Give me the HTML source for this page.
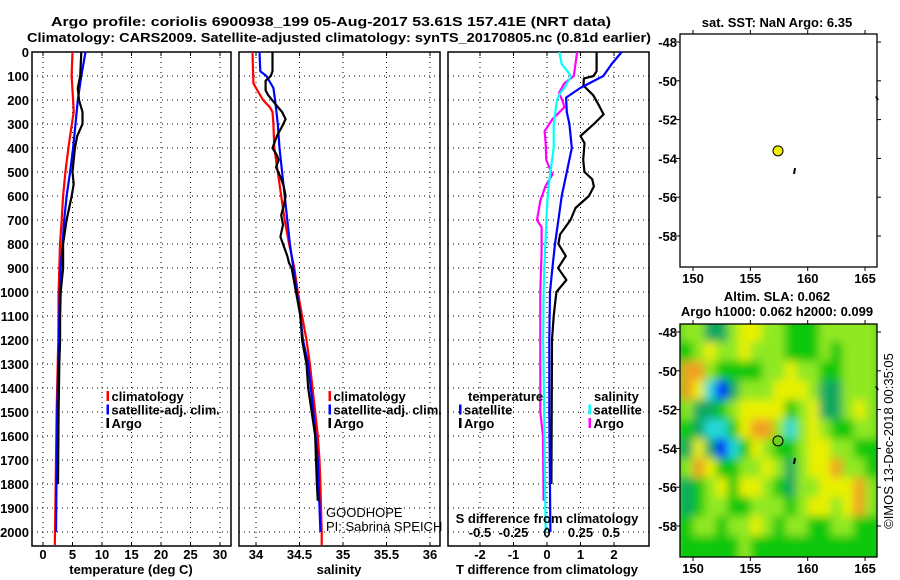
<!DOCTYPE html>
<html><head><meta charset="utf-8"><style>
html,body{margin:0;padding:0;background:#fff;}
svg{display:block;font-family:"Liberation Sans",Arial,sans-serif;}
.b{font-weight:bold;font-size:13px;fill:#000;}
.n{font-size:13px;fill:#000;}
</style></head><body>
<svg id="fig" width="900" height="580" viewBox="0 0 900 580" xmlns="http://www.w3.org/2000/svg">
<defs>
<filter id="blur" x="0" y="0" width="1" height="1"><feGaussianBlur stdDeviation="4.5" edgeMode="duplicate"/></filter>
<clipPath id="clipMap"><rect x="680" y="324" width="197" height="233"/></clipPath>
</defs>
<text class="b" x="331" y="26" text-anchor="middle" textLength="560" lengthAdjust="spacingAndGlyphs">Argo profile: coriolis 6900938_199 05-Aug-2017 53.61S 157.41E (NRT data)</text>
<text class="b" x="339" y="42" text-anchor="middle" textLength="624" lengthAdjust="spacingAndGlyphs">Climatology: CARS2009. Satellite-adjusted climatology: synTS_20170805.nc (0.81d earlier)</text>
<g id="content"></g>
</svg>
<script>
// ---------- data ----------
const depthTicks = [0,100,200,300,400,500,600,700,800,900,1000,1100,1200,1300,1400,1500,1600,1700,1800,1900,2000];
const tempTicks = [0,5,10,15,20,25,30];
const salTicks = [34,34.5,35,35.5,36];
const salTickLabels = ["34","34.5","35","35.5","36"];
const tdiffTicks = [-2,-1,0,1,2];
const sdiffTicks = [-0.5,-0.25,0,0.25,0.5];
const sdiffTickLabels = ["-0.5","-0.25","0","0.25","0.5"];

const climTDepth = [0,100,200,250,300,350,400,500,600,700,800,900,1000,1200,1500,1800,2000,2054];
const climT      = [5.0,4.85,5.1,5.2,4.9,4.6,4.3,3.8,3.4,3.17,2.88,2.77,2.65,2.6,2.3,2.15,2.03,2.0];
const satTDepth  = [0,100,200,300,400,500,600,700,800,900,1000,1200,1500,2000];
const satT       = [7.2,6.5,5.9,5.5,5.1,4.6,4.0,3.6,3.3,3.0,2.84,2.7,2.4,2.2];
const argoTDepth = [0,100,150,200,250,300,350,400,500,550,600,700,800,900,1000,1100,1200,1300,1500,1800];
const argoT      = [6.5,6.3,5.9,6.1,6.7,6.7,5.8,5.4,5.0,5.2,4.86,4.0,3.4,3.4,3.0,2.9,2.9,2.77,2.65,2.54];

const climSDepth = [0,130,150,200,230,250,300,400,500,600,700,800,900,1000,1100,1200,1300,1400,1500,1600,1700,1800,2000,2054];
const climS      = [33.96,33.97,34.0,34.08,34.16,34.19,34.2,34.21,34.25,34.29,34.33,34.38,34.44,34.48,34.53,34.58,34.62,34.65,34.68,34.71,34.73,34.74,34.755,34.755];
const satSDepth  = [0,80,100,150,200,300,400,500,600,700,800,900,1000,1100,1200,1300,1500,1700,2000];
const satS       = [34.04,34.05,34.12,34.2,34.22,34.25,34.27,34.3,34.33,34.36,34.39,34.43,34.47,34.51,34.54,34.6,34.66,34.71,34.74];
const argoSDepth = [0,80,100,120,160,180,220,250,280,310,350,400,430,450,480,520,560,600,640,680,720,770,800,850,880,900,1000,1100,1200,1300,1400,1500,1600,1700,1800,1870];
const argoS      = [34.19,34.19,34.17,34.11,34.11,34.14,34.23,34.3,34.34,34.3,34.24,34.19,34.24,34.26,34.23,34.28,34.32,34.34,34.32,34.29,34.31,34.28,34.31,34.36,34.38,34.41,34.46,34.51,34.53,34.58,34.6,34.64,34.68,34.69,34.7,34.71];

const satTdDepth  = [0,50,100,150,190,250,300,400,500,600,700,800,900,1000,1200,1500,2000];
const satTd       = [2.23,1.93,1.68,0.99,0.57,0.59,0.67,0.74,0.59,0.44,0.34,0.24,0.16,0.09,0.07,0.07,0.1];
const argoTdDepth = [0,80,100,110,140,180,220,260,300,350,380,450,500,530,560,600,650,700,760,800,850,900,950,1000,1100,1200,1500,1800];
const argoTd      = [1.48,1.48,1.39,1.1,1.09,1.38,1.54,1.69,1.4,1.0,1.12,1.08,1.12,1.35,1.4,1.25,0.85,0.7,0.39,0.34,0.56,0.33,0.58,0.28,0.2,0.15,0.14,0.13];
const satSdDepth  = [0,50,100,150,170,200,250,300,400,500,600,700,800,900,1000,1200,1500,2000];
const satSd       = [0.092,0.11,0.18,0.13,0.1,0.075,0.062,0.05,0.05,0.025,0.005,-0.005,-0.012,-0.02,-0.025,-0.028,-0.022,-0.01];
const argoSdDepth = [0,100,130,170,210,230,280,330,380,450,510,560,620,700,730,800,830,1000,1200,1500,1600,1870];
const argoSd      = [0.225,0.2,0.13,0.09,0.12,0.13,0.04,-0.018,-0.01,-0.006,0.04,-0.012,-0.05,-0.075,-0.04,-0.04,-0.04,-0.05,-0.05,-0.05,-0.03,-0.025];

const lonTicks = [150,155,160,165];
const latTicks = [-48,-50,-52,-54,-56,-58];
const argoLon = 157.41, argoLat = -53.61;
// SLA field levels (0 blue .. 6 orange), rows lat -48..-59, cols lon 149.5..165.5
const slaRows = [
 "44224554433344444",
 "34544544433343444",
 "66433334454433444",
 "65102444555422444",
 "42234555534522454",
 "32113566414543344",
 "25201354334554433",
 "46533445424556443",
 "23453554324455564",
 "23443344434554564",
 "34434454344334433",
 "33333433333333333"
];
const slaColors = ["#0000ff","#20d8d8","#10a860","#10c810","#90e820","#e8f000","#f0a020"];

// ---------- helpers ----------
const NS="http://www.w3.org/2000/svg";
const root=document.getElementById('content');
function el(tag,attrs,parent){const e=document.createElementNS(NS,tag);for(const k in attrs)e.setAttribute(k,attrs[k]);(parent||root).appendChild(e);return e;}
const yTop=52, yPx=0.24, yBot=546;
const dy=d=>yTop+d*yPx;
const tx=v=>43+v*5.9;
const sx=v=>256+(v-34)*87;
const dx=v=>547+v*33.5;
const ddx=v=>547+v*134;

function frame(x0,x1,name,xticks,xfn){
  const g=el('g',{});
  
  
  depthTicks.forEach(d=>{el('line',{x1:x0,x2:x1,y1:dy(d),y2:dy(d),stroke:'#000','stroke-width':1,'stroke-dasharray':'1,4'},g);});
  xticks.forEach(v=>{const x=xfn(v);el('line',{x1:x,x2:x,y1:yTop,y2:yBot,stroke:'#000','stroke-width':1,'stroke-dasharray':'1,4'},g);
    el('line',{x1:x,x2:x,y1:yTop,y2:yTop+4,stroke:'#000'},g);el('line',{x1:x,x2:x,y1:yBot,y2:yBot-4,stroke:'#000'},g);});
  el('rect',{x:x0,y:yTop,width:x1-x0,height:yBot-yTop,fill:'none',stroke:'#000','stroke-width':1.5},g);
  return g;
}
function line(g,xs,ds,fx,color,name){
  let p='';
  for(let i=0;i<xs.length;i++){p+=(i?'L':'M')+fx(xs[i]).toFixed(1)+','+dy(ds[i]).toFixed(1);}
  const e=el('path',{d:p,fill:'none',stroke:color,'stroke-width':2.2,'stroke-linejoin':'round'},g);
  
  
}
function txt(g,x,y,s,cls,anchor,name){
  const t=el('text',{x:x,y:y,class:cls||'b','text-anchor':anchor||'start'},g);t.textContent=s;
  if(name){}
  return t;
}

// depth labels
const yl=el('g',{});


depthTicks.forEach(d=>txt(yl,29,dy(d)+5,String(d),'b','end'));

// panel 1
const p1=frame(32,231,'temperature-panel',tempTicks,tx);
line(p1,climT,climTDepth,tx,'#ff0000','climatology-temp-line');
line(p1,satT,satTDepth,tx,'#0000ff','satellite-temp-line');
line(p1,argoT,argoTDepth,tx,'#000000','argo-temp-line');
tempTicks.forEach(v=>txt(p1,tx(v),559,String(v),'b','middle'));
txt(p1,131,574,'temperature (deg C)','b','middle','temperature-axis-title');
function legend(g,x,y,items){
  items.forEach((it,i)=>{el('rect',{x:x,y:y+i*13.5-10,width:2.5,height:10,fill:it[1]},g);txt(g,x+5,y+i*13.5,it[0],'b','start');});
}
const lg1=el('g',{},p1);


legend(lg1,106.5,401,[['climatology','#ff0000'],['satellite-adj. clim.','#0000ff'],['Argo','#000']]);

// panel 2
const p2=frame(239,440,'salinity-panel',salTicks,sx);
line(p2,climS,climSDepth,sx,'#ff0000','climatology-salinity-line');
line(p2,satS,satSDepth,sx,'#0000ff','satellite-salinity-line');
line(p2,argoS,argoSDepth,sx,'#000000','argo-salinity-line');
salTicks.forEach((v,i)=>txt(p2,sx(v),559,salTickLabels[i],'b','middle'));
txt(p2,339,574,'salinity','b','middle','salinity-axis-title');
const lg2=el('g',{},p2);


legend(lg2,328.5,401,[['climatology','#ff0000'],['satellite-adj. clim.','#0000ff'],['Argo','#000']]);
txt(p2,326,517,'GOODHOPE','n','start','project-label');
txt(p2,326,531,'PI: Sabrina SPEICH','n','start','pi-label');

// panel 3
const p3=frame(448,649,'difference-panel',tdiffTicks,dx);
line(p3,argoTd,argoTdDepth,dx,'#000000','argo-temp-diff-line');
line(p3,satTd,satTdDepth,dx,'#0000ff','satellite-temp-diff-line');
line(p3,argoSd,argoSdDepth,ddx,'#ff00ff','argo-salinity-diff-line');
line(p3,satSd,satSdDepth,ddx,'#00ffff','satellite-salinity-diff-line');
tdiffTicks.forEach(v=>txt(p3,dx(v),559,String(v),'b','middle'));
txt(p3,547,574,'T difference from climatology','b','middle','t-diff-axis-title');
txt(p3,547,523,'S difference from climatology','b','middle','s-diff-axis-title');
sdiffTicks.forEach((v,i)=>txt(p3,ddx(v)-(i==4?3:0),537,sdiffTickLabels[i],'b','middle'));
const lg3=el('g',{},p3);


txt(lg3,468,401,'temperature','b','start');
legend(lg3,459,414.5,[['satellite','#0000ff'],['Argo','#000']]);
txt(lg3,594,401,'salinity','b','start');
legend(lg3,588.5,414.5,[['satellite','#00ffff'],['Argo','#ff00ff']]);

// maps
const mx=v=>693+(v-150)*11.47;
const LATPX=19.4;
function mapFrame(y0,name,fill){
  const g=el('g',{});
  
  
  const my=v=>y0+8+(-48-v)*LATPX;
  if(fill){
    const fg=el('g',{'clip-path':'url(#clipMap)'},g);
    const bg=el('g',{filter:'url(#blur)'},fg);
    el('rect',{x:675,y:y0-10,width:210,height:250,fill:'#18c818'},bg);
    slaRows.forEach((row,r)=>{for(let c=0;c<row.length;c++){
      const lon=149+c, lat=-47.5-r;
      const top = r==0 ? y0-10 : my(lat);
      const h = (r==slaRows.length-1 ? 40 : LATPX+0.3) + (r==0 ? my(lat)-top : 0);
      const cell=el('rect',{x:mx(lon),y:top,width:11.8,height:h,fill:slaColors[+row[c]]},bg);
      
      
    }});
  }
  el('rect',{x:680,y:y0,width:197,height:233,fill:'none',stroke:'#000','stroke-width':1.3},g);
  lonTicks.forEach(v=>{el('line',{x1:mx(v),x2:mx(v),y1:y0,y2:y0-4,stroke:'#000'},g);el('line',{x1:mx(v),x2:mx(v),y1:y0+233,y2:y0+237,stroke:'#000'},g);
    txt(g,mx(v),y0+249,String(v),'b','middle');});
  latTicks.forEach(v=>{el('line',{x1:676,x2:680,y1:my(v),y2:my(v),stroke:'#000'},g);el('line',{x1:877,x2:881,y1:my(v),y2:my(v),stroke:'#000'},g);
    txt(g,677,my(v)+5,String(v),'b','end');});
  el('circle',{cx:mx(argoLon),cy:my(argoLat),r:5,fill:fill?'#70d020':'#f0f000',stroke:'#000','stroke-width':1},g);
  el('line',{x1:mx(158.9),x2:mx(158.8),y1:my(-54.5),y2:my(-54.8),stroke:'#000','stroke-width':2},g);
  el('line',{x1:876,x2:878,y1:my(-50.8),y2:my(-51),stroke:'#000','stroke-width':2},g);
  return g;
}
const m1=mapFrame(34,'sst-map',false);
txt(m1,777,27,'sat. SST: NaN Argo: 6.35','b','middle','sst-map-title');
const m2=mapFrame(324,'sla-map',true);
txt(m2,777,301,'Altim. SLA: 0.062','b','middle','sla-map-title');
txt(m2,777,316,'Argo h1000: 0.062 h2000: 0.099','b','middle','sla-map-subtitle');
const cr=txt(root,0,0,'©IMOS 13-Dec-2018 00:35:05','n','middle','imos-credit');
cr.setAttribute('transform','translate(893,441) rotate(-90)');
cr.setAttribute('font-size','12');
</script>
</body></html>
